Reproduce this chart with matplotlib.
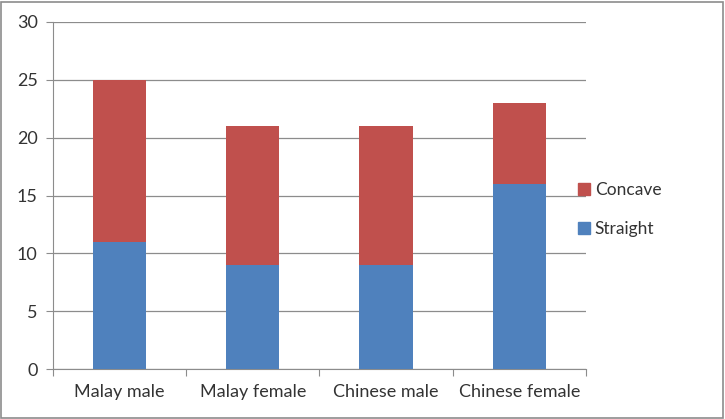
import matplotlib
matplotlib.use("Agg")
import matplotlib.pyplot as plt
from matplotlib.patches import Rectangle, Patch
import numpy as np

categories = ["Malay male", "Malay female", "Chinese male", "Chinese female"]
straight = [11, 9, 9, 16]
concave = [14, 12, 12, 7]

plt.rcParams['font.family'] = ['Lato', 'DejaVu Sans']

fig = plt.figure(figsize=(7.25, 4.19), dpi=100)
ax = fig.add_axes([0.0731, 0.119, 0.735, 0.8285])

x = np.arange(len(categories))
blue = '#4F81BD'
red = '#C0504D'
txt = '#333333'
ax.bar(x, straight, width=0.4, color=blue, zorder=3)
ax.bar(x, concave, width=0.4, bottom=straight, color=red, zorder=3)

ax.set_xlim(-0.5, len(categories) - 0.5)
ax.set_ylim(0, 30)
ax.set_yticks(range(0, 31, 5))
ax.yaxis.grid(True, color='#8c8c8c', linewidth=0.9, zorder=0)

# category ticks sit between the bars
ax.set_xticks(np.arange(-0.5, len(categories)), minor=False)
ax.set_xticklabels([])
ax.set_xticks(x, minor=True)
ax.set_xticklabels(categories, minor=True, fontsize=13, color=txt)
ax.tick_params(axis='x', which='minor', length=0, pad=11)
ax.tick_params(axis='x', which='major', length=5, color='#8c8c8c', direction='out')
ax.tick_params(axis='y', length=5, color='#8c8c8c', labelsize=13, labelcolor=txt, pad=6)

for s in ['top', 'right']:
    ax.spines[s].set_visible(False)
ax.spines['left'].set_color('#8c8c8c')
ax.spines['bottom'].set_color('#8c8c8c')

handles = [Patch(color=red, label='Concave'), Patch(color=blue, label='Straight')]
fig.legend(handles=handles, loc='center left', bbox_to_anchor=(0.775, 0.5),
           frameon=False, fontsize=12.5, labelcolor=txt, handlelength=0.7,
           handleheight=0.7, handletextpad=0.3, labelspacing=1.3)

fig.patches.append(Rectangle((0.002, 0.003), 0.995, 0.993, transform=fig.transFigure,
                             fill=False, edgecolor='#8c8c8c', linewidth=1.2))

fig.savefig('out.png', dpi=100)
